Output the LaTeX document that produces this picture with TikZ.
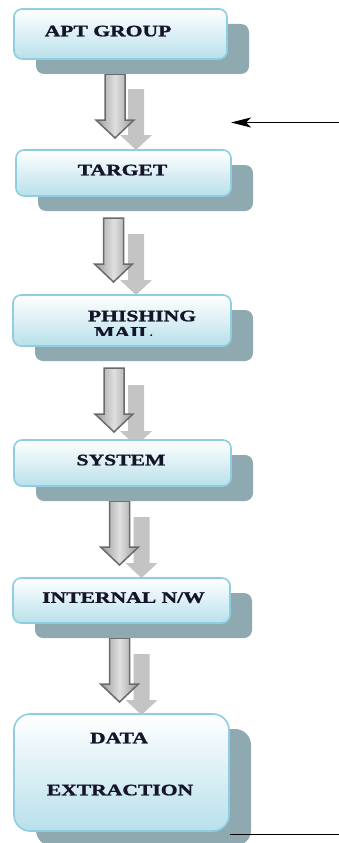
\documentclass[tikz,border=0pt]{standalone}
\usepackage{fontspec}
\setmainfont{Liberation Serif}[BoldFeatures={FakeBold=1.2}]
\usetikzlibrary{shadows,arrows.meta,backgrounds}
\definecolor{boxblue}{HTML}{B8E0EA}
\definecolor{boxedge}{HTML}{8FCDE0}
\definecolor{shadowcol}{HTML}{8FA9B0}
\definecolor{txtcol}{HTML}{15152A}
\definecolor{arrowedge}{HTML}{6A6A6A}
\definecolor{arrowlight}{HTML}{C4C4C4}
\newcommand{\widetext}[1]{\scalebox{1.35}[1]{#1}}
\tikzset{
  stepbox/.style={rectangle, rounded corners=8pt, draw=boxedge, line width=1.6pt,
    top color=white, bottom color=boxblue, inner sep=0pt,
    general shadow={fill=shadowcol, shadow xshift=22pt, shadow yshift=-15pt}},
  boxtext/.style={text=txtcol, font=\fontsize{16}{18}\selectfont\bfseries, inner sep=0pt, anchor=base},
  darkarrow/.pic={\draw[draw=arrowedge, line width=1.5pt, left color=gray!80, right color=gray!80,
      middle color=gray!25, line join=miter]
      (-10,0) -- (10,0) -- (10,46) -- (19,46) -- (0,64) -- (-19,46) -- (-10,46) -- cycle;},
  lightarrow/.pic={\fill[arrowlight]
      (-8,0) -- (8,0) -- (8,46) -- (16,46) -- (0,61) -- (-16,46) -- (-8,46) -- cycle;},
  thinline/.style={line width=1pt, black}
}
\begin{document}
\begin{tikzpicture}[x=1pt,y=-1pt]
\useasboundingbox (0,0) rectangle (339,843);
% boxes
\node[stepbox, minimum width=213pt, minimum height=50pt] (b1) at (120.5,34) {};
\node[stepbox, minimum width=215pt, minimum height=46pt] (b2) at (123.5,173) {};
\node[stepbox, minimum width=218pt, minimum height=51pt] (b3) at (122,320.5) {};
\node[stepbox, minimum width=217pt, minimum height=46pt] (b4) at (122.5,463) {};
\node[stepbox, minimum width=217pt, minimum height=45pt] (b5) at (121.5,600.5) {};
\node[stepbox, rounded corners=16pt, minimum width=215pt, minimum height=117pt] (b6) at (121.5,772.5) {};
% texts
\node[boxtext] (t1) at (108,36.3) {\widetext{APT GROUP}};
\node[boxtext] (t2) at (122.5,175.3) {\widetext{TARGET}};
\node[boxtext] (t3) at (142,321.3) {\widetext{PHISHING}};
\begin{scope}
  \clip (0,300) rectangle (339,335);
  \node[boxtext] (t3b) at (123.5,337.6) {\widetext{MAIL}};
\end{scope}
\node[boxtext] (t4) at (121,465.3) {\widetext{SYSTEM}};
\node[boxtext] (t5) at (123.5,602.8) {\widetext{INTERNAL N/W}};
\node[boxtext] (t6) at (119,743.3) {\widetext{DATA}};
\node[boxtext] (t7) at (120,795.3) {\widetext{EXTRACTION}};
% block arrows behind boxes
\begin{scope}[on background layer]
  \pic at (136,89) {lightarrow};
  \pic at (115,74) {darkarrow};
  \pic at (136,234) {lightarrow};
  \pic at (113.5,218) {darkarrow};
  \pic at (136,385) {lightarrow};
  \pic at (114,368) {darkarrow};
  \pic at (141.5,517) {lightarrow};
  \pic at (119.5,501) {darkarrow};
  \pic at (141.5,654) {lightarrow};
  \pic at (119.5,638) {darkarrow};
\end{scope}
% thin lines
\coordinate (inR) at (339,122.5);
\coordinate (inL) at (231,122.5);
\draw[thinline, -{Stealth[length=20pt,width=10pt,inset=5pt]}] (inR) -- (inL);
\coordinate (outL) at (230,834);
\coordinate (outR) at (339,834);
\draw[thinline] (outL) -- (outR);
\end{tikzpicture}
\end{document}
